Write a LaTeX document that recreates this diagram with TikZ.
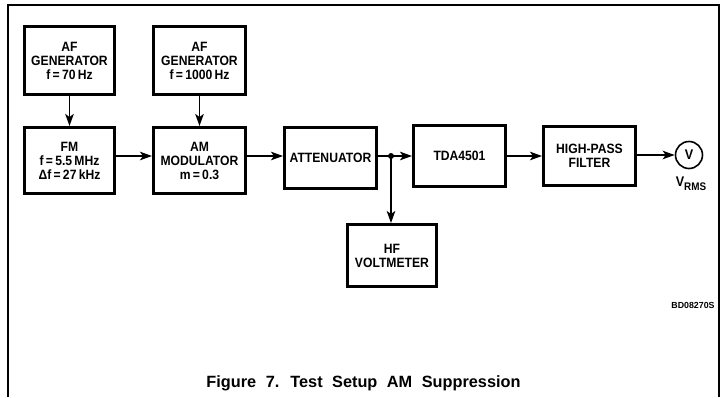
\documentclass[tikz,border=0pt]{standalone}
\usepackage{fontspec}
\setmainfont{Liberation Sans}
\newfontfamily\boxfont{Liberation Sans}[FakeStretch=0.9]
\usetikzlibrary{arrows.meta}
\begin{document}
\begin{tikzpicture}[x=1pt,y=-1pt,
  blk/.style={draw, line width=3pt, inner sep=0pt, align=center,
    font=\boxfont\bfseries\fontsize{13.5}{14}\selectfont},
  conn/.style={line width=1.9pt, -{Stealth[length=12pt,width=8.5pt,inset=3pt]}},
  wire/.style={line width=1.9pt},
  frameline/.style={line width=1.3pt},
  lbl/.style={inner sep=0pt, font=\boxfont\bfseries\fontsize{14}{15}\selectfont},
]
\useasboundingbox (0,0) rectangle (724,397);
\draw[frameline] (8,397) -- (8,5) -- (719,5) -- (719,397);

\node[blk, minimum width=90pt, minimum height=68pt] (afa) at (69.5,60.5) {AF\\GENERATOR\\f\,=\,70\,Hz};
\node[blk, minimum width=92pt, minimum height=68pt] (afb) at (199.5,60.5) {AF\\GENERATOR\\f\,=\,1000\,Hz};
\node[blk, minimum width=90pt, minimum height=66pt] (fm) at (69.5,160.5) {FM\\f\,=\,5.5\,MHz\\Δf\,=\,27\,kHz};
\node[blk, minimum width=92pt, minimum height=66pt] (am) at (199.5,160.5) {AM\\MODULATOR\\m\,=\,0.3};
\node[blk, minimum width=92pt, minimum height=61pt] (att) at (330.5,158) {ATTENUATOR};
\node[blk, minimum width=92pt, minimum height=61pt] (tda) at (459.5,156) {TDA4501};
\node[blk, minimum width=92pt, minimum height=59pt] (hpf) at (589.5,156) {HIGH-PASS\\FILTER};
\node[blk, minimum width=89pt, minimum height=62pt] (hfv) at (392,255.5) {HF\\VOLTMETER};
\node[circle, fill, inner sep=0pt, minimum size=6pt] (j) at (391,156) {};
\node[circle, draw, line width=1.6pt, minimum size=27pt, inner sep=0pt,
  font=\boxfont\bfseries\fontsize{14}{15}\selectfont] (vm) at (689,155) {V};

\node[lbl] (vrms) at (691,184) {V\raisebox{-0.5ex}{\fontsize{11}{12}\selectfont RMS}};
\node[inner sep=0pt, font=\bfseries\fontsize{8.8}{10}\selectfont] (code) at (693,305) {BD08270S};
\node[inner sep=0pt, anchor=base, font=\bfseries\fontsize{16.3}{18}\selectfont] (cap) at (363.5,387)
  {\spaceskip=9.5pt Figure 7. Test Setup AM Suppression};

\draw[conn] (afa) -- (fm);
\draw[conn] (afb) -- (am);
\draw[conn] (fm.east |- j) -- (am.west |- j);
\draw[conn] (am.east |- j) -- (att.west |- j);
\draw[wire] (att.east |- j) -- (j.center);
\draw[conn] (j.center) -- (tda.west |- j);
\draw[conn] (j.center) -- (j |- hfv.north);
\draw[conn] (tda.east |- hpf) -- (hpf.west);
\draw[conn] (hpf.east |- vm) -- (vm.west);
\end{tikzpicture}
\end{document}
